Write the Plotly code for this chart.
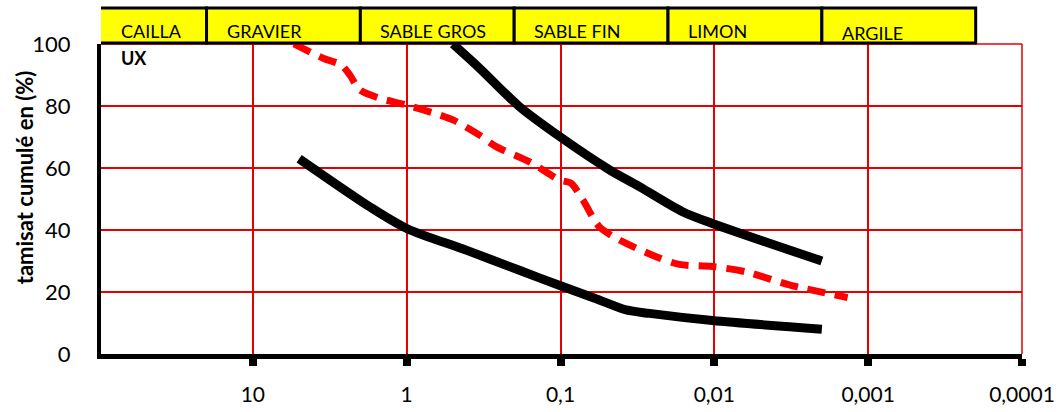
import math
import plotly.graph_objects as go

# Grain-size distribution curves: sieve diameter (mm) vs cumulative passing (%)
lower_d = [5.0, 1.74, 1.0, 0.41, 0.185, 0.1, 0.06, 0.0374, 0.0264, 0.0103, 0.002]
lower_p = [63.0, 47.5, 40.5, 33.5, 27.0, 22.0, 18.0, 14.2, 13.1, 10.8, 8.0]

upper_d = [0.5, 0.336, 0.185, 0.101, 0.048, 0.0307, 0.0161, 0.0103, 0.002]
upper_p = [100.0, 92.2, 79.8, 70.1, 59.4, 54.0, 45.9, 42.1, 30.0]

sample_d = [5.4, 3.49, 2.66, 2.34, 2.02, 1.5, 1.0, 0.61, 0.5, 0.336, 0.262, 0.159,
            0.101, 0.0855, 0.0716, 0.0558, 0.0414, 0.0239, 0.0169, 0.0103,
            0.00622, 0.00326, 0.00136]
sample_p = [100.0, 95.4, 93.2, 90.0, 85.2, 82.5, 80.3, 77.1, 75.5, 70.6, 66.9, 62.0,
            56.1, 55.1, 49.7, 41.0, 36.8, 31.4, 28.9, 28.2,
            26.5, 22.3, 18.2]

# Soil classes and their diameter boundaries (mm)
classes = ["CAILLA", "GRAVIER", "SABLE GROS", "SABLE FIN", "LIMON", "ARGILE"]
class_bounds = [100, 20, 2, 0.2, 0.02, 0.002, 0.0002]

x_tickvals = [10, 1, 0.1, 0.01, 0.001, 0.0001]
x_ticktext = ["10", "1", "0,1", "0,01", "0,001", "0,0001"]
y_tickvals = [0, 20, 40, 60, 80, 100]

FONT = "Lato"
RED = "#E60000"
X_RANGE = [1.987, -4]

fig = go.Figure()

fig.add_trace(go.Scatter(
    x=lower_d, y=lower_p, mode="lines",
    line=dict(color="black", width=9, shape="spline", smoothing=0.8),
    showlegend=False, hoverinfo="skip"))
fig.add_trace(go.Scatter(
    x=upper_d, y=upper_p, mode="lines",
    line=dict(color="black", width=9, shape="spline", smoothing=0.8),
    showlegend=False, hoverinfo="skip"))
fig.add_trace(go.Scatter(
    x=sample_d, y=sample_p, mode="lines",
    line=dict(color="#FF0000", width=7, dash="18px,10px", shape="spline", smoothing=0.8),
    showlegend=False, hoverinfo="skip"))

# Class header boxes above the plot area
for i, name in enumerate(classes):
    fig.add_shape(type="rect", xref="x", yref="paper",
                  x0=class_bounds[i], x1=class_bounds[i + 1],
                  y0=1.003, y1=1.116,
                  fillcolor="#FFFF00", line=dict(color="black", width=3),
                  layer="above")
    # keep the label anchor inside the visible axis range
    x_anchor = min(math.log10(class_bounds[i]), X_RANGE[0])
    fig.add_annotation(xref="x", yref="paper",
                       x=x_anchor, y=1.035 if name == "ARGILE" else 1.042,
                       xanchor="left", yanchor="middle", xshift=18,
                       text=name, showarrow=False,
                       font=dict(family=FONT, size=18, color="black"))

fig.add_annotation(xref="paper", yref="paper", x=0, y=0.955,
                   xanchor="left", yanchor="middle", xshift=18,
                   text="<b>UX</b>", showarrow=False,
                   font=dict(family=FONT, size=18, color="black"))

# Red frame on the top and right edges of the plot area
fig.add_shape(type="line", xref="paper", yref="paper", x0=0, x1=1, y0=1, y1=1,
              line=dict(color=RED, width=1.5), layer="below")
fig.add_shape(type="line", xref="paper", yref="paper", x0=1, x1=1, y0=0, y1=1,
              line=dict(color=RED, width=1.5), layer="below")

# Y axis title
fig.add_annotation(xref="paper", yref="paper", x=0, y=0.57, xshift=-77,
                   text="<b>tamisat cumulé en (%)</b>", textangle=-90,
                   showarrow=False, xanchor="center", yanchor="middle",
                   font=dict(family=FONT, size=22, color="black"))

fig.update_xaxes(
    type="log", range=X_RANGE, automargin=False,
    tickvals=x_tickvals, ticktext=x_ticktext,
    showgrid=True, gridcolor=RED, gridwidth=1.5,
    showline=True, linecolor="black", linewidth=5,
    ticks="outside", ticklen=7, tickwidth=8, tickcolor="black",
    ticklabelstandoff=11,
    tickfont=dict(family=FONT, size=21, color="black"),
    zeroline=False)

fig.update_yaxes(
    range=[0, 100], tickvals=y_tickvals, automargin=False,
    showgrid=True, gridcolor=RED, gridwidth=1.5,
    showline=True, linecolor="black", linewidth=4,
    ticks="", ticklabelstandoff=22,
    tickfont=dict(family=FONT, size=22, color="black"),
    zeroline=False)

fig.update_layout(
    width=1061, height=412,
    margin=dict(l=101, r=39, t=44, b=58),
    paper_bgcolor="white", plot_bgcolor="white",
    font=dict(family=FONT),
)

fig.write_html("out.html")
